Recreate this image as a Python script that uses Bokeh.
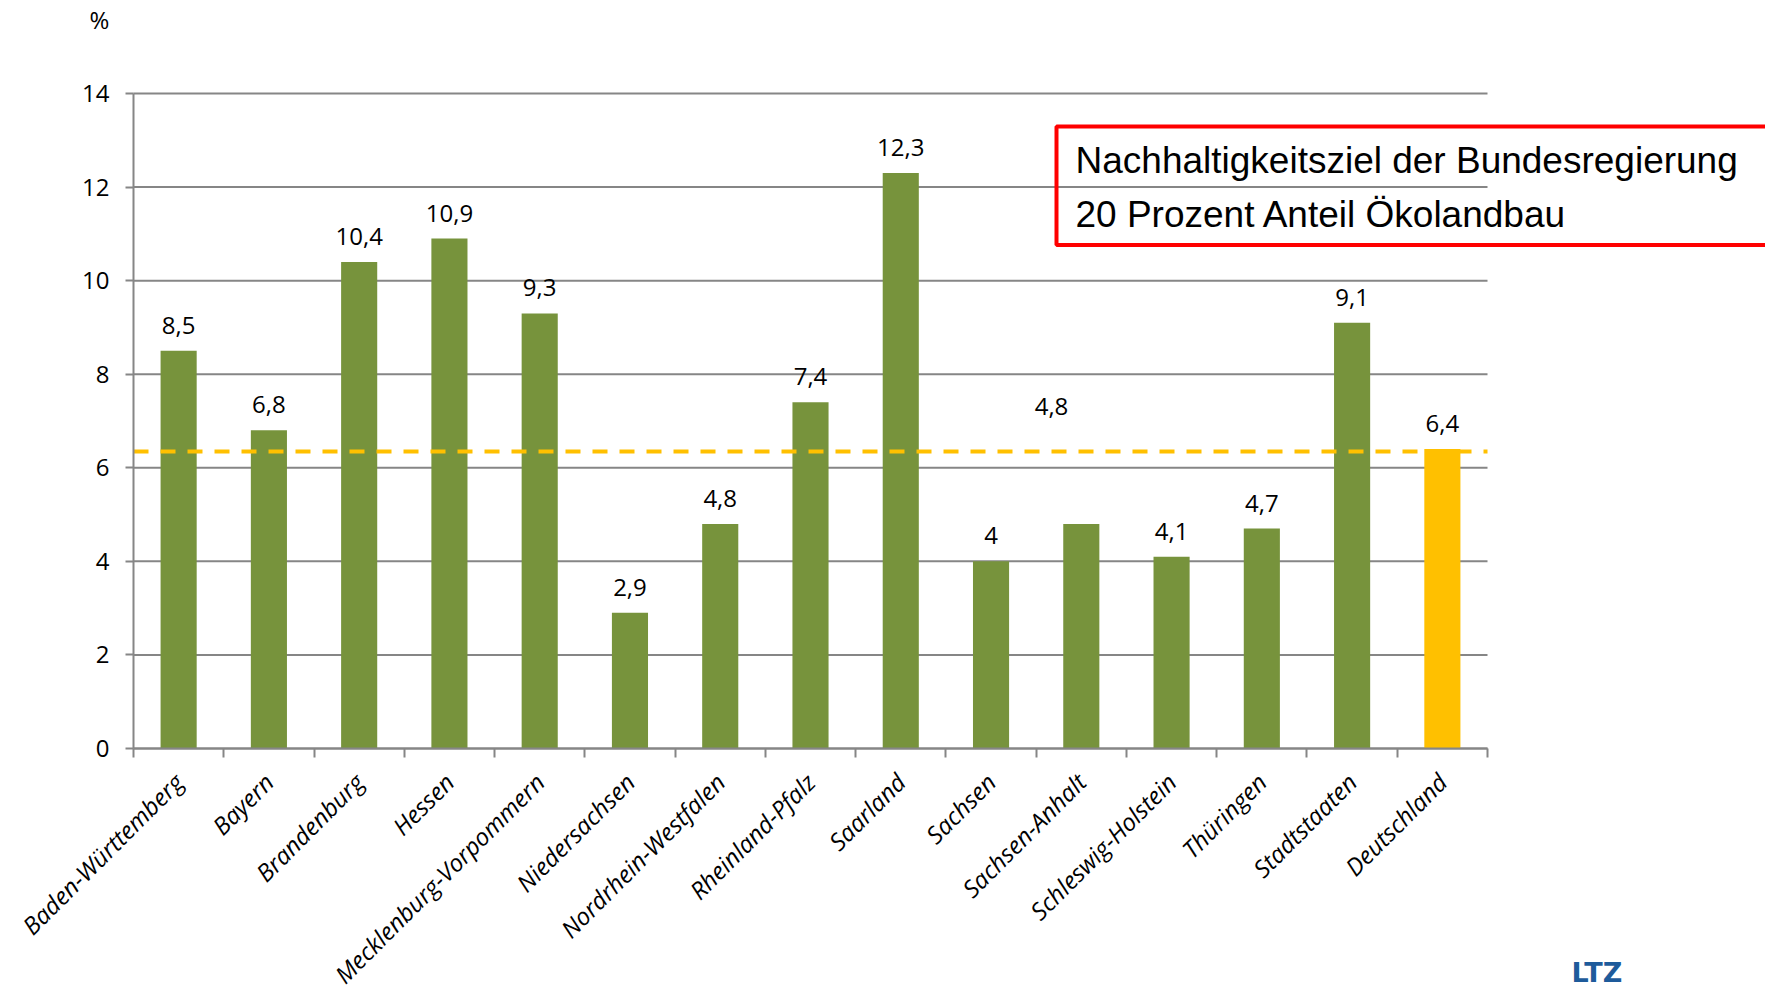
import math
from bokeh.plotting import figure
from bokeh.models import Range1d, FixedTicker, Label, LabelSet, ColumnDataSource
from bokeh.core.properties import value
from bokeh.embed import file_html
from bokeh.resources import INLINE

# ---------------- data ----------------
categories = ["Baden-Württemberg", "Bayern", "Brandenburg", "Hessen",
              "Mecklenburg-Vorpommern", "Niedersachsen", "Nordrhein-Westfalen",
              "Rheinland-Pfalz", "Saarland", "Sachsen", "Sachsen-Anhalt",
              "Schleswig-Holstein", "Thüringen", "Stadtstaaten", "Deutschland"]
values = [8.5, 6.8, 10.4, 10.9, 9.3, 2.9, 4.8, 7.4, 12.3, 4.0, 4.8, 4.1, 4.7, 9.1, 6.4]
value_labels = ["8,5", "6,8", "10,4", "10,9", "9,3", "2,9", "4,8", "7,4", "12,3",
                "4", "4,8", "4,1", "4,7", "9,1", "6,4"]
highlight = "Deutschland"
reference_line = 6.35
y_ticks = [0, 2, 4, 6, 8, 10, 12, 14]
unit_label = "%"
note_text = "Nachhaltigkeitsziel der Bundesregierung\n20 Prozent Anteil Ökolandbau"
logo_text = "LTZ"

# ---------------- styling ----------------
GREEN = "#77933C"
GOLD = "#FFC000"
GRAY = "#868686"
FONT = "Open Sans"

n = len(categories)
centers = list(range(1, n + 1))
boundaries = [c - 0.5 for c in centers] + [n + 0.5]
colors = [GOLD if c == highlight else GREEN for c in categories]
x_lo, x_hi = 0.5, n + 0.5
y_lo, y_hi = y_ticks[0], y_ticks[-1]

# canvas geometry (pixels): plotting area from x=133..1487, y=93..748
W, H = 1765, 994
AX_LEFT, AX_RIGHT, AX_TOP, AX_BOTTOM = 133, 1487, 93, 748
unit_x = (AX_RIGHT - AX_LEFT) / (x_hi - x_lo)
unit_y = (AX_BOTTOM - AX_TOP) / (y_hi - y_lo)
x_range = Range1d(x_lo - AX_LEFT / unit_x, x_lo + (W - AX_LEFT) / unit_x)
y_range = Range1d(y_lo - (H - AX_BOTTOM) / unit_y, y_lo + AX_BOTTOM / unit_y)

def px_x(px):
    return x_lo + (px - AX_LEFT) / unit_x

def px_y(py):
    return y_lo + (AX_BOTTOM - py) / unit_y

p = figure(width=W, height=H, x_range=x_range, y_range=y_range,
           output_backend="svg", toolbar_location=None,
           min_border_left=0, min_border_top=0, min_border_right=0, min_border_bottom=0)
p.title.text = ""
p.outline_line_color = None
p.background_fill_color = "white"
p.border_fill_color = "white"
p.xgrid.visible = False
p.ygrid.visible = False

# horizontal gridlines limited to the plotting area
p.segment(x0=[x_lo] * len(y_ticks), x1=[x_hi] * len(y_ticks), y0=y_ticks, y1=y_ticks,
          line_color=GRAY, line_width=2)

src = ColumnDataSource(dict(x=centers, top=values, color=colors, cat=categories, lab=value_labels))
p.vbar(x="x", top="top", bottom=y_lo, width=0.4, fill_color="color", line_color=None, source=src)

# reference dashed line
p.segment(x0=[x_lo], x1=[x_hi], y0=[reference_line], y1=[reference_line],
          line_color=GOLD, line_width=4, line_dash="15 12")

# y axis
ya = p.yaxis[0]
ya.fixed_location = x_lo
ya.bounds = (y_lo, y_hi)
ya.ticker = FixedTicker(ticks=y_ticks)
ya.axis_line_color = GRAY
ya.axis_line_width = 2
ya.major_tick_line_color = GRAY
ya.major_tick_line_width = 2
ya.major_tick_out = 8
ya.major_tick_in = 0
ya.minor_tick_line_color = None
ya.major_label_text_font = FONT
ya.major_label_text_font_size = "24px"
ya.major_label_text_color = "black"
ya.major_label_standoff = 16

# x axis
xa = p.xaxis[0]
xa.fixed_location = y_lo
xa.bounds = (x_lo, x_hi)
xa.ticker = FixedTicker(ticks=centers, minor_ticks=boundaries)
xa.major_label_overrides = {c: cat for c, cat in zip(centers, categories)}
xa.axis_line_color = GRAY
xa.axis_line_width = 2
xa.major_tick_line_color = None
xa.major_tick_out = 0
xa.major_tick_in = 0
xa.minor_tick_line_color = GRAY
xa.minor_tick_line_width = 2
xa.minor_tick_out = 9
xa.minor_tick_in = 0
xa.major_label_orientation = math.pi / 4
xa.major_label_text_font = FONT
xa.major_label_text_font_style = "italic"
xa.major_label_text_font_size = "24px"
xa.major_label_text_color = "black"
xa.major_label_standoff = 20

# value labels (the Sachsen-Anhalt label is displaced in the original)
displaced = "Sachsen-Anhalt"
keep = [i for i, c in enumerate(categories) if c != displaced]
lsrc = ColumnDataSource(dict(x=[centers[i] for i in keep], y=[values[i] for i in keep],
                             t=[value_labels[i] for i in keep]))
p.add_layout(LabelSet(x="x", y="y", text="t", source=lsrc, y_offset=17,
                      text_align="center", text_baseline="alphabetic",
                      text_font=value(FONT), text_font_size="24px", text_color="black"))
di = categories.index(displaced)
p.add_layout(Label(x=centers[di] - 0.33, y=values[di], y_offset=117, text=value_labels[di],
                   text_align="center", text_baseline="alphabetic",
                   text_font=FONT, text_font_size="24px", text_color="black"))

# unit label "%"
p.add_layout(Label(x=px_x(99), y=px_y(19), text=unit_label, text_align="center",
                   text_baseline="alphabetic", text_font=FONT, text_font_size="24px",
                   text_color="black"))

# note box (runs past the right edge as in the original)
p.add_layout(Label(x=px_x(1056), y=px_y(126), text=note_text, anchor="top_left",
                   text_font="Liberation Sans", text_font_size="37px", text_color="black",
                   text_line_height=1.33, padding=(19, 60, 13, 10),
                   border_line_color="#FF0000", border_line_width=4,
                   background_fill_color=None))

# logo
p.add_layout(Label(x=px_x(1571), y=px_y(972), text=logo_text,
                   text_align="left", text_baseline="alphabetic",
                   text_font="DejaVu Sans", text_font_style="bold",
                   text_font_size="27px", text_color="#1E5B9B"))

open("out.html", "w").write(file_html(p, INLINE))
